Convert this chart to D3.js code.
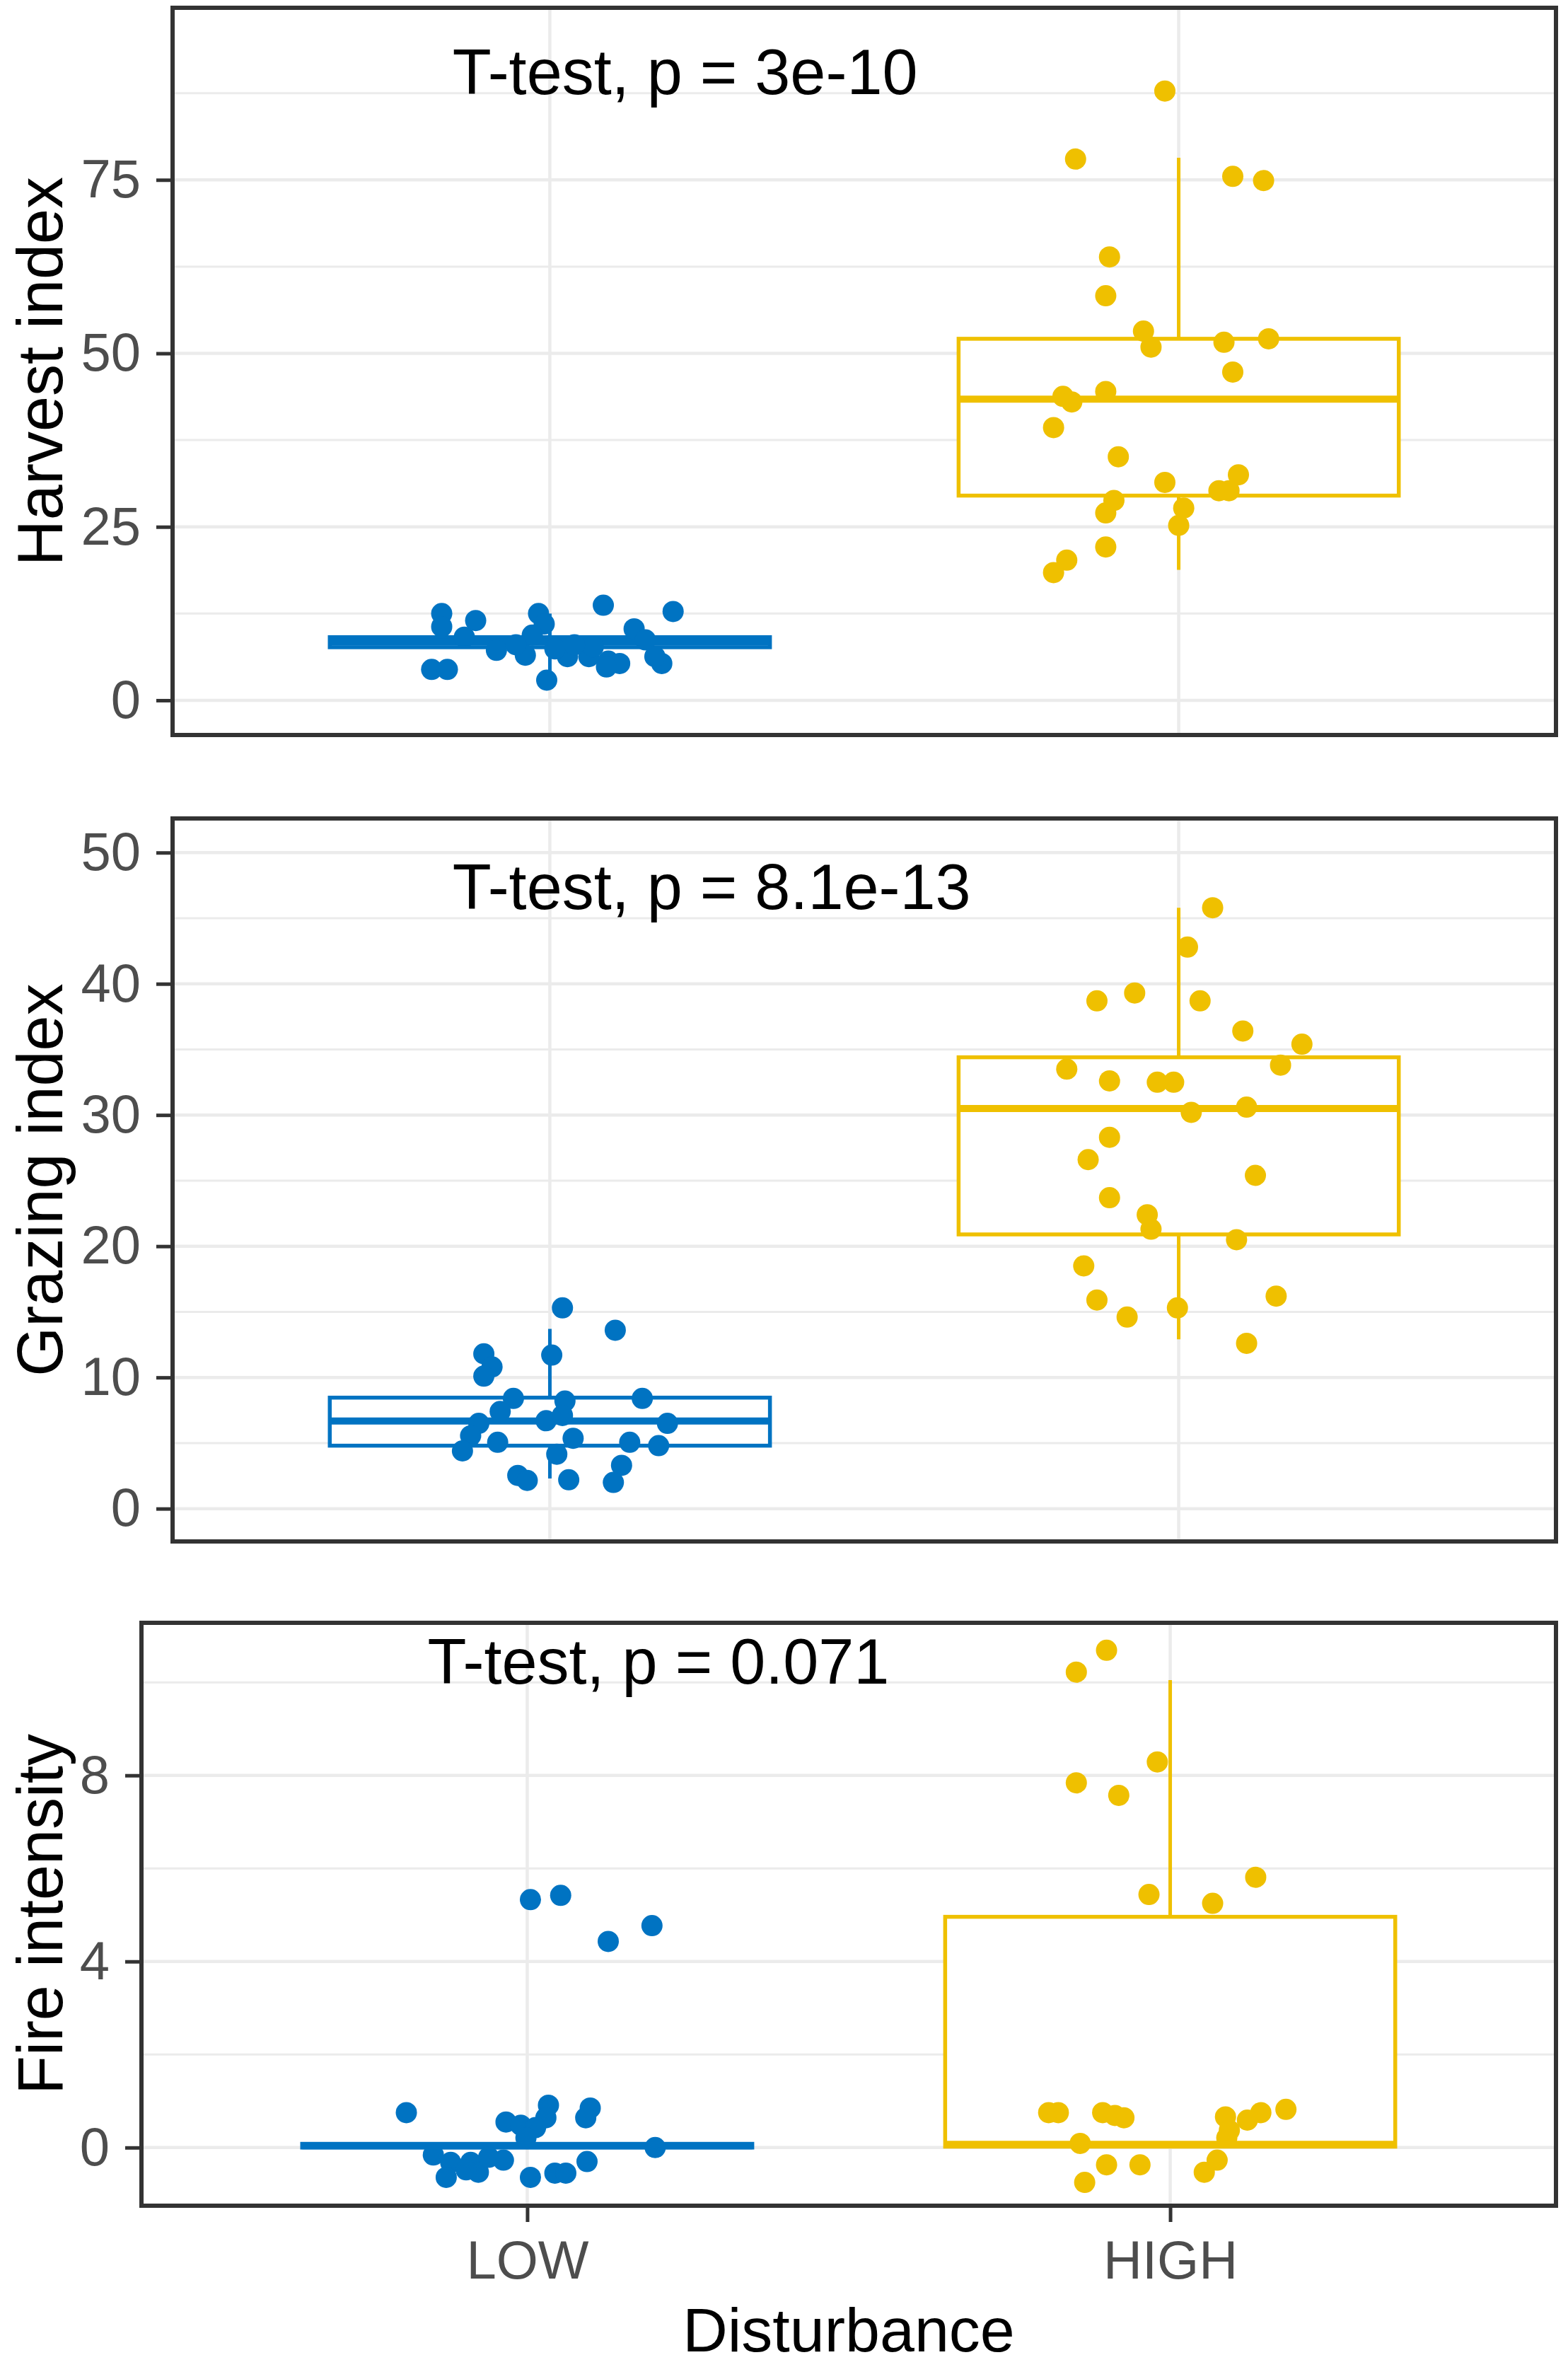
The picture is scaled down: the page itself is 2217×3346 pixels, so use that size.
<!DOCTYPE html>
<html>
<head>
<meta charset="utf-8">
<script src="https://cdn.jsdelivr.net/npm/d3@7"></script>
<style>
  body { margin: 0; background: #fff; }
  text { font-family: "Liberation Sans", Arial, sans-serif; }
</style>
</head>
<body>
<script>
// ---- data ----
var categories = ["LOW", "HIGH"];
var groupColors = ["#0073C2", "#EFC000"];

// box stats: [whisker low, q1, median, q3, whisker high]
var harvestBoxLow = [3.2, 7.65, 8.4, 9.1, 12.5];
var harvestBoxHigh = [18.8, 29.5, 43.4, 52.1, 78.2];
var harvestLow = [12.5, 10.6, 11.5, 4.45, 4.45, 12.5, 11.0, 2.9, 13.7, 12.8, 10.3, 7.2, 6.5, 6.3,
  6.3, 5.65, 5.3, 4.8, 5.3, 9.4, 8.7, 6.3, 9.1, 8.0, 7.7, 7.4, 8.0];
var harvestLowJitter = [-0.172, -0.172, -0.118, -0.188, -0.163, -0.018, -0.009, -0.005, 0.085, 0.196,
  0.134, -0.085, -0.039, 0.028, 0.062, 0.093, 0.111, 0.090, 0.178, -0.028, 0.152, 0.167, -0.136,
  -0.054, 0.069, 0.008, 0.039];
var harvestHigh = [87.8, 78.0, 75.5, 74.9, 63.9, 58.3, 53.2, 50.9, 51.6, 52.1, 47.3, 43.8, 43.0, 44.5,
  39.3, 35.1, 31.4, 30.2, 30.2, 32.5, 28.8, 27.0, 27.7, 25.2, 22.1, 20.2, 18.4];
var harvestHighJitter = [-0.022, -0.164, 0.086, 0.135, -0.110, -0.116, -0.056, -0.044, 0.072, 0.143,
  0.086, -0.184, -0.170, -0.116, -0.199, -0.096, -0.022, 0.064, 0.080, 0.095, -0.103, -0.116, 0.008,
  0.0, -0.116, -0.178, -0.199];
var harvestTicks = [0, 25, 50, 75];
var harvestMinor = [12.5, 37.5, 62.5, 87.5];

var grazingBoxLow = [2.3, 4.8, 6.68, 8.46, 13.7];
var grazingBoxHigh = [12.9, 20.9, 30.5, 34.4, 45.8];
var grazingLow = [15.3, 13.6, 11.8, 10.8, 10.1, 11.7, 8.4, 7.4, 8.2, 8.4, 6.5, 6.7, 7.1, 6.5, 5.55,
  5.06, 5.36, 5.06, 4.8, 4.4, 4.15, 2.53, 2.15, 2.2, 3.3, 2.0];
var grazingLowJitter = [0.020, 0.104, -0.105, -0.092, -0.105, 0.003, -0.058, -0.079, 0.024, 0.147,
  -0.113, -0.006, 0.020, 0.187, -0.126, -0.083, 0.037, 0.127, 0.173, -0.139, 0.011, -0.051, -0.036,
  0.030, 0.114, 0.101];
var grazingHigh = [45.8, 42.8, 38.7, 39.3, 38.7, 36.4, 35.4, 33.5, 33.8, 32.6, 32.5, 32.5, 30.2, 30.6,
  28.3, 26.6, 25.4, 23.7, 22.4, 21.3, 20.5, 18.5, 15.9, 14.6, 15.3, 16.2, 12.6];
var grazingHighJitter = [0.054, 0.014, -0.130, -0.070, 0.034, 0.102, 0.196, -0.178, 0.162, -0.110,
  -0.034, -0.008, 0.020, 0.108, -0.110, -0.144, 0.122, -0.110, -0.050, -0.044, 0.092, -0.151, -0.130,
  -0.082, -0.002, 0.155, 0.108];
var grazingTicks = [0, 10, 20, 30, 40, 50];
var grazingMinor = [5, 15, 25, 35, 45];

var fireBoxLow = [0, 0, 0.04, 0.08, 0.08];
var fireBoxHigh = [0, 0.02, 0.07, 4.96, 10.05];
var fireLow = [5.33, 5.42, 4.43, 4.77, 0.75, 0.91, 0.64, 0.85, 0.64, 0.55, 0.48, 0.43, 0.21, 0.0,
  -0.16, -0.32, -0.32, -0.27, -0.30, -0.64, -0.53, -0.48, -0.64, -0.55, -0.55, -0.21];
var fireLowJitter = [0.005, 0.052, 0.126, 0.194, -0.188, 0.033, 0.029, 0.098, 0.091, -0.033, -0.010,
  0.013, -0.002, 0.199, -0.146, -0.119, -0.088, -0.037, 0.093, -0.126, -0.076, -0.095, 0.005, 0.043,
  0.060, -0.060];
var fireHigh = [10.69, 10.22, 8.29, 7.84, 7.57, 5.44, 5.25, 5.81, 0.75, 0.75, 0.75, 0.69, 0.64, 0.66,
  0.59, 0.75, 0.82, 0.37, 0.21, 0.09, -0.37, -0.37, -0.75, -0.27, -0.53];
var fireHighJitter = [-0.099, -0.146, -0.020, -0.146, -0.080, -0.033, 0.066, 0.133, -0.189, -0.174,
  -0.105, -0.086, -0.072, 0.086, 0.120, 0.141, 0.180, 0.092, 0.088, -0.140, -0.099, -0.047, -0.133,
  0.073, 0.053];
var fireTicks = [0, 4, 8];
var fireMinor = [2, 6, 10];

var yTitles = ["Harvest index", "Grazing index", "Fire intensity"];
var testLabels = ["T-test, p = 3e-10", "T-test, p = 8.1e-13", "T-test, p = 0.071"];
var testLabelY = [87.4, 45.7, 9.97];
var xTitle = "Disturbance";

// ---- layout ----
var W = 2217, H = 3346;
var panels = [
  {left: 244, right: 2200, top: 11, bottom: 1039, domain: [-5.0, 99.8],
   ticks: harvestTicks, minor: harvestMinor,
   boxes: [harvestBoxLow, harvestBoxHigh],
   values: [harvestLow, harvestHigh], jitter: [harvestLowJitter, harvestHighJitter]},
  {left: 244, right: 2200, top: 1157, bottom: 2179, domain: [-2.5, 52.6],
   ticks: grazingTicks, minor: grazingMinor,
   boxes: [grazingBoxLow, grazingBoxHigh],
   values: [grazingLow, grazingHigh], jitter: [grazingLowJitter, grazingHighJitter]},
  {left: 200, right: 2200, top: 2294, bottom: 3118, domain: [-1.25, 11.28],
   ticks: fireTicks, minor: fireMinor,
   boxes: [fireBoxLow, fireBoxHigh],
   values: [fireLow, fireHigh], jitter: [fireLowJitter, fireHighJitter]}
];

var svg = d3.select("body")
  .append("svg")
  .attr("width", W)
  .attr("height", H);

svg.append("rect").attr("width", W).attr("height", H).attr("fill", "#fff");

var boxHalf = 0.35;

panels.forEach(function(p, pi) {
  var x = d3.scaleLinear().domain([0.4, 2.6]).range([p.left, p.right]);
  var y = d3.scaleLinear().domain(p.domain).range([p.bottom, p.top]);
  var g = svg.append("g");

  // grid
  g.selectAll(".minor").data(p.minor).enter().append("line")
    .attr("x1", p.left).attr("x2", p.right)
    .attr("y1", function(d) { return y(d); }).attr("y2", function(d) { return y(d); })
    .attr("stroke", "#EBEBEB").attr("stroke-width", 3);
  g.selectAll(".major").data(p.ticks).enter().append("line")
    .attr("x1", p.left).attr("x2", p.right)
    .attr("y1", function(d) { return y(d); }).attr("y2", function(d) { return y(d); })
    .attr("stroke", "#EBEBEB").attr("stroke-width", 4.5);
  g.selectAll(".vgrid").data([1, 2]).enter().append("line")
    .attr("x1", function(d) { return x(d); }).attr("x2", function(d) { return x(d); })
    .attr("y1", p.top).attr("y2", p.bottom)
    .attr("stroke", "#EBEBEB").attr("stroke-width", 4.5);

  // boxes
  p.boxes.forEach(function(b, i) {
    var c = i + 1;
    var col = groupColors[i];
    g.append("line")
      .attr("x1", x(c)).attr("x2", x(c))
      .attr("y1", y(b[3])).attr("y2", y(b[4]))
      .attr("stroke", col).attr("stroke-width", 5);
    g.append("line")
      .attr("x1", x(c)).attr("x2", x(c))
      .attr("y1", y(b[1])).attr("y2", y(b[0]))
      .attr("stroke", col).attr("stroke-width", 5);
    g.append("rect")
      .attr("x", x(c - boxHalf))
      .attr("width", x(c + boxHalf) - x(c - boxHalf))
      .attr("y", y(b[3]))
      .attr("height", y(b[1]) - y(b[3]))
      .attr("fill", "#fff")
      .attr("stroke", col).attr("stroke-width", 5.5);
    g.append("line")
      .attr("x1", x(c - boxHalf)).attr("x2", x(c + boxHalf))
      .attr("y1", y(b[2])).attr("y2", y(b[2]))
      .attr("stroke", col).attr("stroke-width", 10);
  });

  // jittered points
  p.values.forEach(function(vals, i) {
    g.selectAll(".pt" + i).data(vals).enter().append("circle")
      .attr("cx", function(d, j) { return x(i + 1 + p.jitter[i][j]); })
      .attr("cy", function(d) { return y(d); })
      .attr("r", 15)
      .attr("fill", groupColors[i]);
  });

  // frame
  g.append("rect")
    .attr("x", p.left).attr("y", p.top)
    .attr("width", p.right - p.left).attr("height", p.bottom - p.top)
    .attr("fill", "none").attr("stroke", "#333333").attr("stroke-width", 6);

  // y axis
  var yAxis = g.append("g")
    .attr("transform", "translate(" + (p.left - 3) + ",0)")
    .call(d3.axisLeft(y).tickValues(p.ticks).tickSize(20).tickPadding(22));
  yAxis.select(".domain").remove();
  yAxis.selectAll("line").attr("stroke", "#333333").attr("stroke-width", 5);
  yAxis.selectAll("text")
    .attr("font-size", 76)
    .attr("font-family", "'Liberation Sans', Arial, sans-serif")
    .attr("fill", "#4D4D4D");

  // y title
  g.append("text")
    .attr("transform", "translate(88," + ((p.top + p.bottom) / 2) + ") rotate(-90)")
    .attr("text-anchor", "middle")
    .attr("font-size", 90)
    .attr("fill", "#000")
    .text(yTitles[pi]);

  // test annotation
  g.append("text")
    .attr("x", x(1 - 0.155))
    .attr("y", y(testLabelY[pi]))
    .attr("font-size", 90)
    .attr("fill", "#000")
    .text(testLabels[pi]);

  // x axis on the last panel only
  if (pi === panels.length - 1) {
    var xAxis = g.append("g")
      .attr("transform", "translate(0," + (p.bottom + 3) + ")")
      .call(d3.axisBottom(x).tickValues([1, 2])
        .tickFormat(function(d) { return categories[d - 1]; })
        .tickSize(20).tickPadding(26));
    xAxis.select(".domain").remove();
    xAxis.selectAll("line").attr("stroke", "#333333").attr("stroke-width", 5);
    xAxis.selectAll("text")
      .attr("font-size", 76)
      .attr("font-family", "'Liberation Sans', Arial, sans-serif")
      .attr("fill", "#4D4D4D");

    g.append("text")
      .attr("x", (p.left + p.right) / 2)
      .attr("y", 3324)
      .attr("text-anchor", "middle")
      .attr("font-size", 88)
      .attr("fill", "#000")
      .text(xTitle);
  }
});
</script>
</body>
</html>
